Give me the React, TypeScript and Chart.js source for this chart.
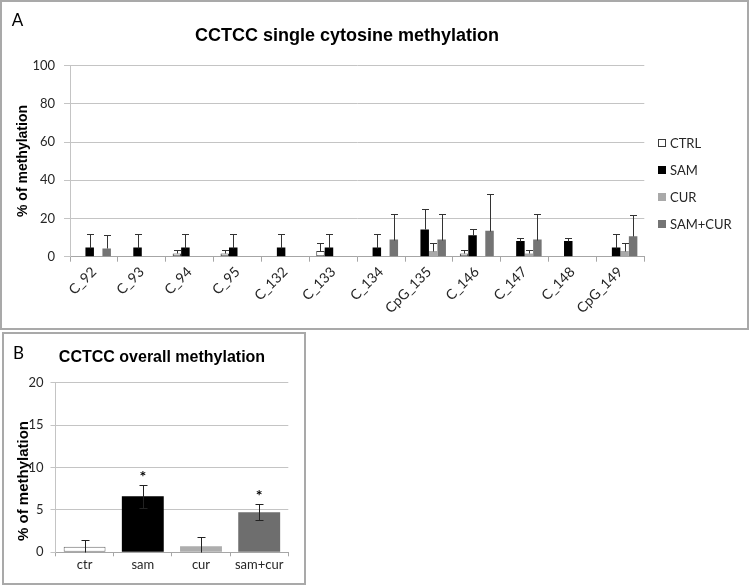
import React, { useEffect, useRef } from 'react';
import { Chart, registerables } from 'chart.js';

Chart.register(...registerables);

// ---------- Panel A data ----------
const siteCategories = ['C_92', 'C_93', 'C_94', 'C_95', 'C_132', 'C_133', 'C_134', 'CpG_135', 'C_146', 'C_147', 'C_148', 'CpG_149'];
const seriesNames = ['CTRL', 'SAM', 'CUR', 'SAM+CUR'];
const ctrlValues = [0, 0, 1.7, 1.7, 0, 3.0, 0, 0, 1.7, 0, 0, 0];
const ctrlErrors = [null, null, 1.8, 1.8, null, 4.0, null, null, 1.8, null, null, null];
const samValues = [4.8, 4.8, 4.8, 4.8, 4.8, 4.8, 4.8, 14.3, 11.2, 8.2, 8.2, 4.8];
const samErrors = [7.0, 7.0, 7.0, 7.0, 7.0, 7.0, 7.0, 10.8, 3.1, 1.8, 1.8, 7.0];
const curValues = [0, 0, 0, 0, 0, 0, 0, 3.0, 0, 1.7, 0, 3.0];
const curErrors = [null, null, null, null, null, null, null, 4.0, null, 1.8, null, 4.0];
const samCurValues = [4.3, 0, 0, 0, 0, 0, 9.0, 9.0, 13.6, 9.0, 0, 10.7];
const samCurErrors = [6.9, null, null, null, null, null, 13.3, 13.3, 19.2, 13.3, null, 11.0];
const siteAxisMax = 100;
const siteAxisStep = 20;

// ---------- Panel B data ----------
const overallCategories = ['ctr', 'sam', 'cur', 'sam+cur'];
const overallValues = [0.65, 6.6, 0.72, 4.72];
const overallErrors = [0.8, 1.33, 1.05, 0.93];
const overallSignificance = ['', '*', '', '*'];
const overallAxisMax = 20;
const overallAxisStep = 5;

const seriesColors = ['#ffffff', '#000000', '#a9a9a9', '#747474'];
const overallColors = ['#ffffff', '#000000', '#adadad', '#6e6e6e'];

const tickFont = { family: 'Lato', size: 13 };
const textColor = '#262626';

const errorBarPlugin = {
  id: 'errorBars',
  afterDatasetsDraw(chart: any, _args: any, opts: any) {
    const { ctx } = chart;
    const y = chart.scales.y;
    chart.data.datasets.forEach((ds: any, i: number) => {
      if (!ds.errors) return;
      const meta = chart.getDatasetMeta(i);
      meta.data.forEach((bar: any, j: number) => {
        const v = ds.data[j];
        const e = ds.errors[j];
        if (v == null || e == null) return;
        const x = Math.round(bar.x) + 0.5;
        const top = Math.round(y.getPixelForValue(v + e)) + 0.5;
        const lowVal = opts.both ? Math.max(v - e, 0) : v;
        const bottom = Math.round(y.getPixelForValue(lowVal)) + 0.5;
        const cw = opts.capWidth / 2;
        ctx.save();
        ctx.strokeStyle = opts.color;
        ctx.lineWidth = 1;
        ctx.beginPath();
        ctx.moveTo(x, top);
        ctx.lineTo(x, bottom);
        ctx.moveTo(x - cw, top);
        ctx.lineTo(x + cw, top);
        if (opts.both && v - e > 0) {
          ctx.moveTo(x - cw, bottom);
          ctx.lineTo(x + cw, bottom);
        }
        ctx.stroke();
        ctx.restore();
      });
    });
  },
};

const significancePlugin = {
  id: 'significance',
  afterDatasetsDraw(chart: any, _args: any, opts: any) {
    if (!opts.marks) return;
    const { ctx } = chart;
    const y = chart.scales.y;
    const ds: any = chart.data.datasets[0];
    const meta = chart.getDatasetMeta(0);
    meta.data.forEach((bar: any, j: number) => {
      const mark = opts.marks[j];
      if (!mark) return;
      const top = y.getPixelForValue(ds.data[j] + (ds.errors ? ds.errors[j] || 0 : 0));
      ctx.save();
      ctx.fillStyle = '#000';
      ctx.font = 'bold 16px Lato';
      ctx.textAlign = 'center';
      ctx.textBaseline = 'alphabetic';
      ctx.fillText(mark, bar.x, top - 3);
      ctx.restore();
    });
  },
};

function SitesChart() {
  const ref = useRef<HTMLCanvasElement | null>(null);
  useEffect(() => {
    if (!ref.current) return;
    const values = [ctrlValues, samValues, curValues, samCurValues];
    const errors = [ctrlErrors, samErrors, curErrors, samCurErrors];
    const chart = new Chart(ref.current, {
      type: 'bar',
      data: {
        labels: siteCategories,
        datasets: seriesNames.map((name, i) => ({
          label: name,
          data: values[i],
          errors: errors[i],
          backgroundColor: seriesColors[i],
          borderColor: i === 0 ? '#3a3a3a' : seriesColors[i],
          borderWidth: i === 0 ? (c: any) => (c.raw ? 1 : 0) : 0,
          borderSkipped: false,
          categoryPercentage: 0.71,
          barPercentage: 1,
        })) as any,
      },
      options: {
        responsive: false,
        animation: false,
        layout: { padding: { left: 0, top: 65.7, right: 104.7, bottom: 13.3 } },
        plugins: {
          legend: { display: false },
          tooltip: { enabled: false },
          errorBars: { both: false, capWidth: 7, color: '#333333' },
        } as any,
        scales: {
          x: {
            offset: true,
            grid: { offset: true, drawOnChartArea: false, drawTicks: true, tickLength: 5, color: '#a6a6a6' },
            border: { color: '#a6a6a6' },
            ticks: { minRotation: 45, maxRotation: 45, autoSkip: false, font: { family: 'Lato', size: 14 }, color: textColor, padding: 2 },
            afterFit: (s: any) => { s.height = 60; },
          },
          y: {
            min: 0,
            max: siteAxisMax,
            ticks: { stepSize: siteAxisStep, font: tickFont, color: textColor, padding: 9 },
            grid: { color: '#c4c4c4', tickLength: 6 },
            border: { color: '#c4c4c4' },
            afterFit: (s: any) => { s.width = 70; },
          },
        },
      },
      plugins: [errorBarPlugin],
    });
    return () => chart.destroy();
  }, []);
  return <canvas ref={ref} width={749} height={330} style={{ position: 'absolute', left: 0, top: 0 }} />;
}

function OverallChart() {
  const ref = useRef<HTMLCanvasElement | null>(null);
  useEffect(() => {
    if (!ref.current) return;
    const chart = new Chart(ref.current, {
      type: 'bar',
      data: {
        labels: overallCategories,
        datasets: [
          {
            label: '% of methylation',
            data: overallValues,
            errors: overallErrors,
            backgroundColor: overallColors,
            borderColor: ['#6a6a6a', '#000000', '#adadad', '#6e6e6e'],
            borderWidth: [1, 0, 0, 0],
            borderSkipped: false,
            categoryPercentage: 0.72,
            barPercentage: 1,
          } as any,
        ],
      },
      options: {
        responsive: false,
        animation: false,
        layout: { padding: { left: 0, top: 51.7, right: 21.7, bottom: 9.7 } },
        plugins: {
          legend: { display: false },
          tooltip: { enabled: false },
          errorBars: { both: true, capWidth: 8, color: '#222222' },
          significance: { marks: overallSignificance },
        } as any,
        scales: {
          x: {
            offset: true,
            grid: { offset: true, drawOnChartArea: false, drawTicks: true, tickLength: 4, color: '#a6a6a6' },
            border: { color: '#a6a6a6' },
            ticks: { font: tickFont, color: textColor, padding: 1 },
            afterFit: (s: any) => { s.height = 25; },
          },
          y: {
            min: 0,
            max: overallAxisMax,
            ticks: { stepSize: overallAxisStep, font: tickFont, color: textColor, padding: 7 },
            grid: { color: '#c4c4c4', tickLength: 5 },
            border: { color: '#c4c4c4' },
            afterFit: (s: any) => { s.width = 55.5; },
          },
        },
      },
      plugins: [errorBarPlugin, significancePlugin],
    });
    return () => chart.destroy();
  }, []);
  return <canvas ref={ref} width={310} height={256} style={{ position: 'absolute', left: 0, top: 331 }} />;
}

const centered = (x: number, y: number, extra: React.CSSProperties = {}): React.CSSProperties => ({
  position: 'absolute',
  left: x,
  top: y,
  transform: 'translate(-50%, -50%)',
  whiteSpace: 'nowrap',
  lineHeight: 1,
  ...extra,
});

export default function App() {
  return (
    <div style={{ position: 'absolute', left: 0, top: 0, width: 749, height: 587, background: '#fff', overflow: 'hidden' }}>
      <SitesChart />
      <OverallChart />
      {/* Panel frames */}
      <div style={{ position: 'absolute', left: 0, top: 0, width: 749, height: 330, boxSizing: 'border-box', border: '2px solid #a9a9a9', pointerEvents: 'none' }} />
      <div style={{ position: 'absolute', left: 2, top: 332, width: 304, height: 253, boxSizing: 'border-box', border: '2px solid #a9a9a9', pointerEvents: 'none' }} />

      {/* Panel A texts */}
      <div style={centered(17.5, 19, { fontFamily: 'Lato', fontSize: 17, color: '#000' })}>A</div>
      <div style={centered(347, 35, { fontFamily: 'Liberation Sans', fontWeight: 'bold', fontSize: 18, color: '#000' })}>
        CCTCC single cytosine methylation
      </div>
      <div style={centered(22, 161, { fontFamily: 'Liberation Sans', fontWeight: 'bold', fontSize: 14, color: '#000', transform: 'translate(-50%, -50%) rotate(-90deg)' })}>
        % of methylation
      </div>
      {seriesNames.map((name, i) => (
        <div key={name}>
          <div
            style={{
              position: 'absolute',
              left: 657.5,
              top: 139 + i * 27,
              width: 8,
              height: 8,
              boxSizing: 'border-box',
              background: seriesColors[i],
              border: i === 0 ? '1px solid #3a3a3a' : 'none',
            }}
          />
          <div style={{ position: 'absolute', left: 670, top: 143 + i * 27, transform: 'translateY(-50%)', lineHeight: 1, fontFamily: 'Lato', fontSize: 13, color: textColor, whiteSpace: 'nowrap' }}>
            {name}
          </div>
        </div>
      ))}

      {/* Panel B texts */}
      <div style={centered(18.5, 352, { fontFamily: 'Lato', fontSize: 17, color: '#000' })}>B</div>
      <div style={centered(162, 356.7, { fontFamily: 'Liberation Sans', fontWeight: 'bold', fontSize: 16, color: '#000' })}>
        CCTCC overall methylation
      </div>
      <div style={centered(21.5, 481, { fontFamily: 'Liberation Sans', fontWeight: 'bold', fontSize: 15, color: '#000', transform: 'translate(-50%, -50%) rotate(-90deg)' })}>
        % of methylation
      </div>
    </div>
  );
}
